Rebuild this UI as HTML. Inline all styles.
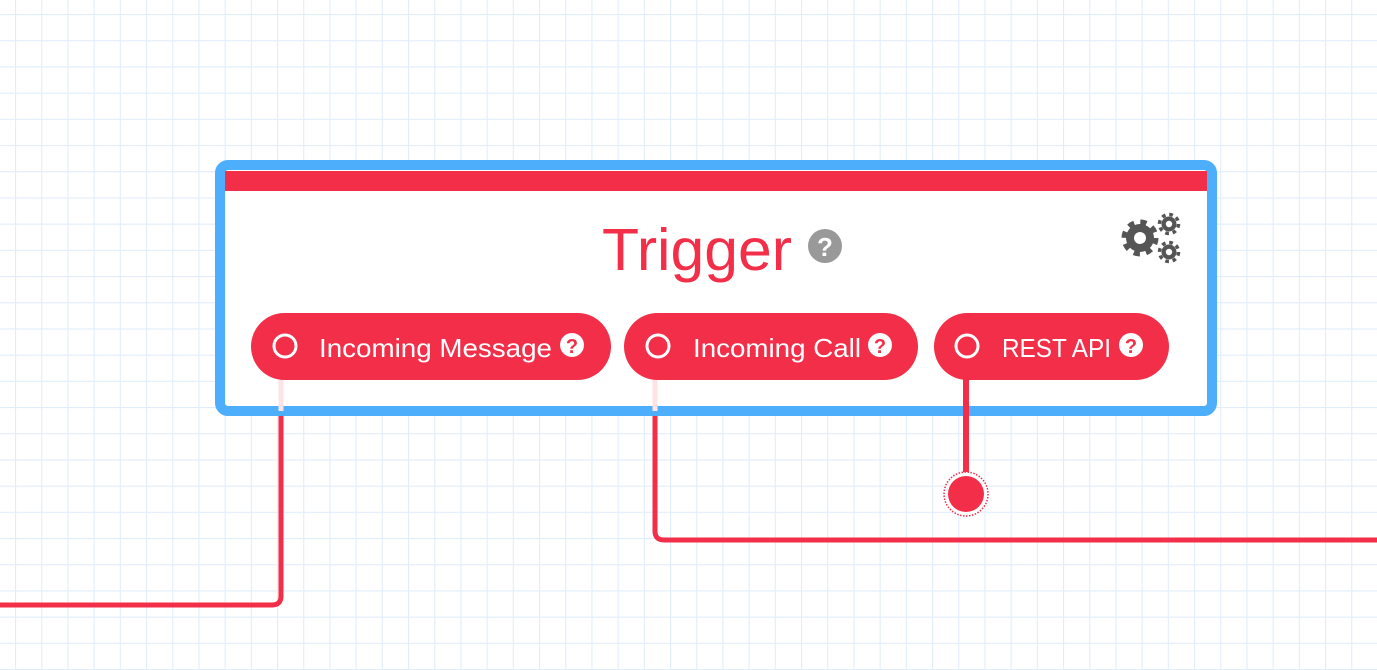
<!DOCTYPE html>
<html><head><meta charset="utf-8"><style>
html,body{margin:0;padding:0;width:1377px;height:670px;overflow:hidden;background:#fff}
svg{display:block}
text{font-family:"Liberation Sans",sans-serif}
</style></head><body>
<svg width="1377" height="670" viewBox="0 0 1377 670" xmlns="http://www.w3.org/2000/svg">
<defs>
<pattern id="g" x="15" y="14" width="26.2" height="26.2" patternUnits="userSpaceOnUse">
<path d="M0 0V26.2M0 0H26.2" stroke="#e1edfb" stroke-width="2.2" fill="none"/>
</pattern>
</defs>
<rect x="0" y="0" width="1377" height="670" fill="#fff"/>
<rect x="0" y="0" width="1377" height="670" fill="url(#g)"/>

<path d="M281 416 V596 Q281 605 272 605 H0" stroke="#f22e48" stroke-width="5" fill="none"/>
<path d="M655 416 V531 Q655 540 664 540 H1377" stroke="#f22e48" stroke-width="5" fill="none"/>

<rect x="220" y="165" width="992" height="246" rx="8" fill="#fff" stroke="#4daefc" stroke-width="10"/>
<rect x="225" y="171" width="982" height="20" fill="#f22e48"/>
<line x1="281" y1="380" x2="281" y2="411" stroke="#fde3e6" stroke-width="5"/>
<line x1="655" y1="380" x2="655" y2="411" stroke="#fde3e6" stroke-width="5"/>

<text x="602" y="270" font-size="59" fill="#f22e48" textLength="190" lengthAdjust="spacingAndGlyphs">Trigger</text>
<circle cx="825" cy="246" r="17" fill="#999"/>
<text x="825" y="256" font-size="26" font-weight="bold" fill="#fff" text-anchor="middle">?</text>

<g fill="#555">
<circle cx="1140" cy="238" r="14"/>
<circle cx="1140" cy="238" r="16" fill="none" stroke="#555" stroke-width="5" stroke-dasharray="6.3 6.3"/>
<circle cx="1140" cy="238" r="6" fill="#fff"/>
<circle cx="1169" cy="224" r="7.5"/>
<circle cx="1169" cy="224" r="9.5" fill="none" stroke="#555" stroke-width="3.5" stroke-dasharray="3.7 3.75"/>
<circle cx="1169" cy="224" r="3.2" fill="#fff"/>
<circle cx="1169" cy="252" r="7.5"/>
<circle cx="1169" cy="252" r="9.5" fill="none" stroke="#555" stroke-width="3.5" stroke-dasharray="3.7 3.75"/>
<circle cx="1169" cy="252" r="3.2" fill="#fff"/>
</g>

<g>
<rect x="251" y="313" width="360" height="67" rx="33.5" fill="#f22e48"/>
<circle cx="285" cy="346" r="11" fill="none" stroke="#fff" stroke-width="3"/>
<text x="319" y="357" font-size="26" fill="#fff" textLength="233" lengthAdjust="spacingAndGlyphs">Incoming Message</text>
<circle cx="572" cy="345" r="12" fill="#fff"/>
<text x="572" y="353" font-size="20" font-weight="bold" fill="#f22e48" text-anchor="middle">?</text>

<rect x="624" y="313" width="294" height="67" rx="33.5" fill="#f22e48"/>
<circle cx="658" cy="346" r="11" fill="none" stroke="#fff" stroke-width="3"/>
<text x="693" y="357" font-size="26" fill="#fff" textLength="168" lengthAdjust="spacingAndGlyphs">Incoming Call</text>
<circle cx="880" cy="345" r="12" fill="#fff"/>
<text x="880" y="353" font-size="20" font-weight="bold" fill="#f22e48" text-anchor="middle">?</text>

<rect x="934" y="313" width="235" height="67" rx="33.5" fill="#f22e48"/>
<circle cx="967" cy="346" r="11" fill="none" stroke="#fff" stroke-width="3"/>
<text x="1002" y="357" font-size="26" fill="#fff" textLength="109" lengthAdjust="spacingAndGlyphs">REST API</text>
<circle cx="1131" cy="345" r="12" fill="#fff"/>
<text x="1131" y="353" font-size="20" font-weight="bold" fill="#f22e48" text-anchor="middle">?</text>
</g>

<line x1="966" y1="378" x2="966" y2="494" stroke="#f22e48" stroke-width="6"/>
<circle cx="966" cy="494" r="22" fill="#fff" stroke="#f22e48" stroke-width="1.5" stroke-dasharray="1.5 1.5"/>
<circle cx="966" cy="494" r="18" fill="#f22e48"/>
</svg>
</body></html>
